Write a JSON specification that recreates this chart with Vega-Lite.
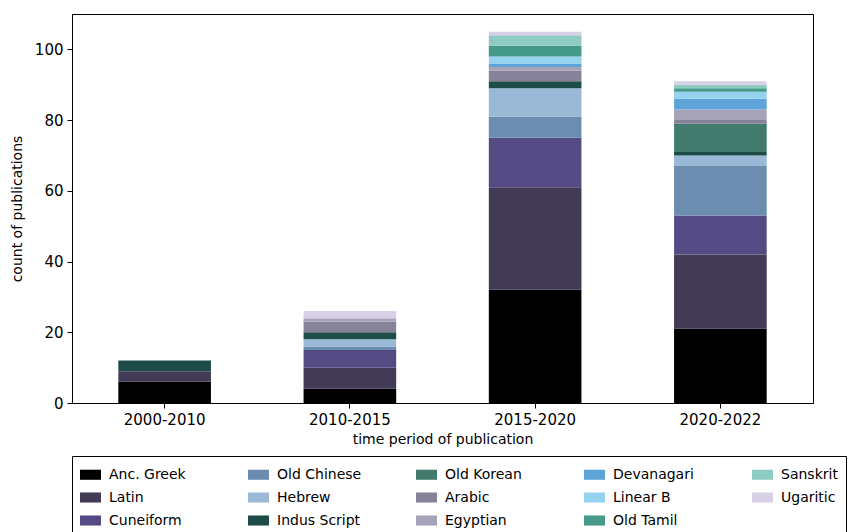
{
  "$schema": "https://vega.github.io/schema/vega-lite/v6.json",
  "width": 741,
  "height": 389,
  "autosize": "none",
  "padding": {"left": 72, "top": 14, "right": 39, "bottom": 129},
  "config": {
    "font": "DejaVu Sans",
    "view": {"stroke": "black", "strokeWidth": 1},
    "axis": {"grid": false, "domainColor": "black", "tickColor": "black", "labelColor": "black", "titleColor": "black", "labelFontSize": 15, "titleFontSize": 14, "titleFontWeight": "normal", "tickSize": 5, "labelPadding": 4}
  },
  "data": {"values": [
    {"period": "2000-2010", "script": "Anc. Greek", "count": 6},
    {"period": "2000-2010", "script": "Latin", "count": 3},
    {"period": "2000-2010", "script": "Indus Script", "count": 3},
    {"period": "2010-2015", "script": "Anc. Greek", "count": 4},
    {"period": "2010-2015", "script": "Latin", "count": 6},
    {"period": "2010-2015", "script": "Cuneiform", "count": 5},
    {"period": "2010-2015", "script": "Old Chinese", "count": 1},
    {"period": "2010-2015", "script": "Hebrew", "count": 2},
    {"period": "2010-2015", "script": "Indus Script", "count": 2},
    {"period": "2010-2015", "script": "Arabic", "count": 3},
    {"period": "2010-2015", "script": "Egyptian", "count": 1},
    {"period": "2010-2015", "script": "Ugaritic", "count": 2},
    {"period": "2015-2020", "script": "Anc. Greek", "count": 32},
    {"period": "2015-2020", "script": "Latin", "count": 29},
    {"period": "2015-2020", "script": "Cuneiform", "count": 14},
    {"period": "2015-2020", "script": "Old Chinese", "count": 6},
    {"period": "2015-2020", "script": "Hebrew", "count": 8},
    {"period": "2015-2020", "script": "Indus Script", "count": 2},
    {"period": "2015-2020", "script": "Arabic", "count": 3},
    {"period": "2015-2020", "script": "Egyptian", "count": 1},
    {"period": "2015-2020", "script": "Devanagari", "count": 1},
    {"period": "2015-2020", "script": "Linear B", "count": 2},
    {"period": "2015-2020", "script": "Old Tamil", "count": 3},
    {"period": "2015-2020", "script": "Sanskrit", "count": 3},
    {"period": "2015-2020", "script": "Ugaritic", "count": 1},
    {"period": "2020-2022", "script": "Anc. Greek", "count": 21},
    {"period": "2020-2022", "script": "Latin", "count": 21},
    {"period": "2020-2022", "script": "Cuneiform", "count": 11},
    {"period": "2020-2022", "script": "Old Chinese", "count": 14},
    {"period": "2020-2022", "script": "Hebrew", "count": 3},
    {"period": "2020-2022", "script": "Indus Script", "count": 1},
    {"period": "2020-2022", "script": "Old Korean", "count": 8},
    {"period": "2020-2022", "script": "Arabic", "count": 1},
    {"period": "2020-2022", "script": "Egyptian", "count": 3},
    {"period": "2020-2022", "script": "Devanagari", "count": 3},
    {"period": "2020-2022", "script": "Linear B", "count": 2},
    {"period": "2020-2022", "script": "Old Tamil", "count": 1},
    {"period": "2020-2022", "script": "Sanskrit", "count": 1},
    {"period": "2020-2022", "script": "Ugaritic", "count": 1}
  ]},
  "transform": [
    {"calculate": "indexof(['Anc. Greek','Latin','Cuneiform','Old Chinese','Hebrew','Indus Script','Old Korean','Arabic','Egyptian','Devanagari','Linear B','Old Tamil','Sanskrit','Ugaritic'], datum.script)", "as": "stackorder"}
  ],
  "mark": {"type": "bar"},
  "encoding": {
    "x": {"field": "period", "type": "nominal", "title": "time period of publication",
      "scale": {"paddingInner": 0.5, "paddingOuter": 0.25},
      "axis": {"labelAngle": 0, "titlePadding": 5}},
    "y": {"field": "count", "type": "quantitative", "aggregate": "sum", "title": "count of publications",
      "scale": {"domain": [0, 110], "nice": false},
      "axis": {"values": [0, 20, 40, 60, 80, 100], "titlePadding": 10}},
    "order": {"field": "stackorder", "type": "quantitative", "sort": "ascending"},
    "color": {"field": "script", "type": "nominal",
      "scale": {
        "domain": ["Anc. Greek", "Old Chinese", "Old Korean", "Devanagari", "Sanskrit", "Latin", "Hebrew", "Arabic", "Linear B", "Ugaritic", "Cuneiform", "Indus Script", "Egyptian", "Old Tamil"],
        "range": ["#000000", "#6c8cb0", "#427b6d", "#5fa4d9", "#8ecbc3", "#433a55", "#9ab9d6", "#858299", "#95d2f0", "#d8d0e6", "#544b85", "#1e4c48", "#a7a4ba", "#469a89"]
      },
      "legend": {
        "title": null, "orient": "none", "legendX": 0, "legendY": 442, "direction": "horizontal", "columns": 5,
        "gridAlign": "all", "columnPadding": 54, "rowPadding": 5,
        "symbolType": "M-1,-0.48H1V0.48H-1Z", "symbolSize": 441, "symbolStrokeWidth": 0, "symbolOpacity": 1,
        "labelFontSize": 14, "labelColor": "black", "labelOffset": 8,
        "strokeColor": "black", "padding": 8, "symbolOffset": 0
      }
    }
  }
}
